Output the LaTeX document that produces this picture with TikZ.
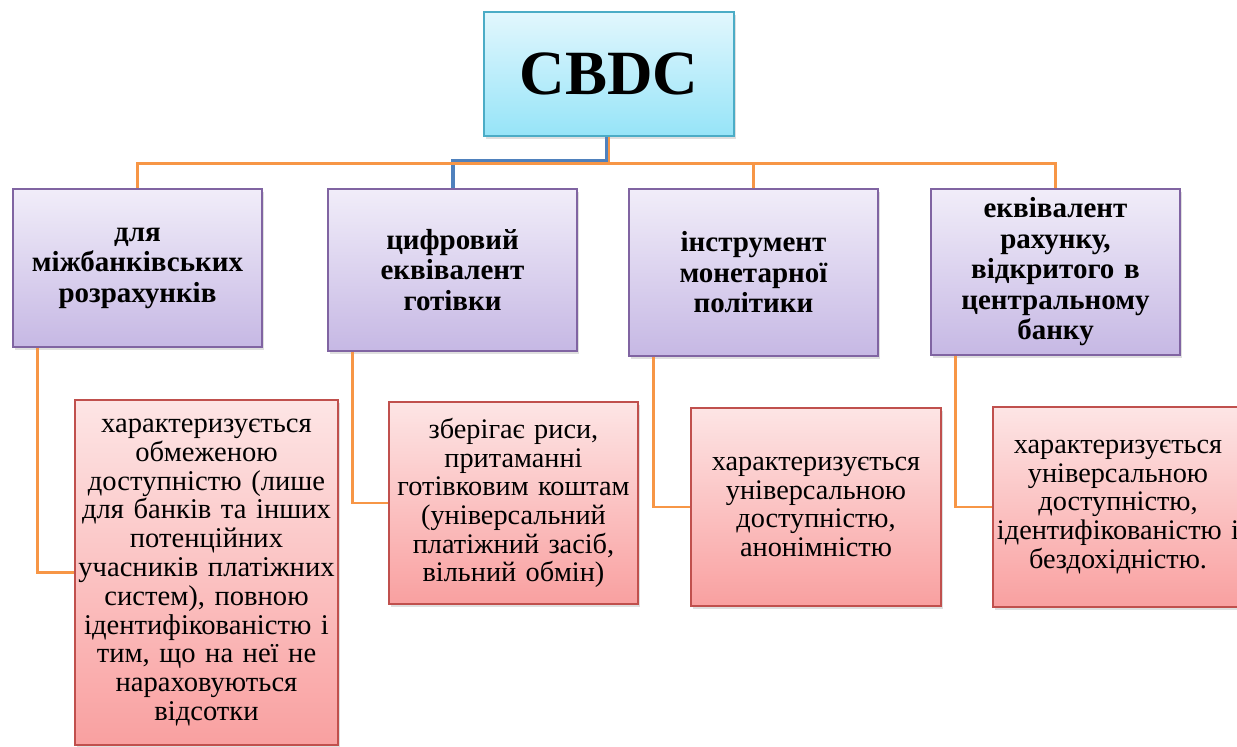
\documentclass[tikz,border=0pt]{standalone}
\usepackage{fontspec}
\setmainfont{Liberation Serif}
\usetikzlibrary{shadows}
\definecolor{cyanT}{RGB}{226,247,253}
\definecolor{cyanB}{RGB}{150,228,248}
\definecolor{cyanD}{RGB}{75,172,198}
\definecolor{purT}{RGB}{241,237,249}
\definecolor{purB}{RGB}{198,184,228}
\definecolor{purD}{RGB}{128,100,162}
\definecolor{redT}{RGB}{253,229,229}
\definecolor{redB}{RGB}{249,160,160}
\definecolor{redD}{RGB}{192,80,77}
\definecolor{orangeL}{RGB}{247,150,70}
\definecolor{blueL}{RGB}{79,129,189}
\tikzset{
  x=1pt, y=-1pt,
  shad/.style={drop shadow={opacity=0.25, shadow xshift=2pt, shadow yshift=-3pt}},
  rootbox/.style={shad, draw=cyanD, line width=1.5pt, top color=cyanT, bottom color=cyanB,
    minimum width=250pt, minimum height=124pt, inner sep=0pt, align=center,
    font=\fontsize{63}{75}\selectfont\bfseries},
  catbox/.style={shad, draw=purD, line width=1.5pt, top color=purT, bottom color=purB,
    minimum width=249pt, inner sep=0pt, align=center, text width=245pt,
    font=\fontsize{29}{30.5}\selectfont\bfseries},
  descbox/.style={shad, draw=redD, line width=1.5pt, top color=redT, bottom color=redB,
    inner sep=0pt, align=center,
    font=\fontsize{28.3}{28.7}\selectfont},
  link/.style={draw=orangeL, line width=2.6pt},
  blink/.style={draw=blueL, line width=4pt}
}
\begin{document}
\begin{tikzpicture}
\useasboundingbox (0,0) rectangle (1237,747);
\fill[white] (0,0) rectangle (1237,747);

\node[rootbox] (cbdc) at (609,74) {CBDC};

\node[catbox, minimum height=158pt] (b1) at (137.5,268) {для\\міжбанківських\\розрахунків};
\node[catbox, minimum height=162pt] (b2) at (452.5,270) {цифровий\\еквівалент\\готівки};
\node[catbox, minimum height=167pt] (b3) at (753.5,272.5) {інструмент\\монетарної\\політики};
\node[catbox, minimum height=166pt] (b4) at (1055.5,272) {еквівалент\\рахунку,\\відкритого в\\центральному\\банку};

\node[descbox, minimum width=263pt, minimum height=345pt, text width=300pt, inner xsep=-20pt,
  font=\fontsize{28.6}{28.8}\selectfont] (c1) at (206.5,572.5)
  {характеризується\\обмеженою\\доступністю (лише\\для банків та інших\\потенційних\\учасників платіжних\\систем), повною\\ідентифікованістю і\\тим, що на неї не\\нараховуються\\відсотки};
\node[descbox, minimum width=249pt, minimum height=202pt, text width=246pt] (c2) at (513.5,503)
  {зберігає риси,\\притаманні\\готівковим коштам\\(універсальний\\платіжний засіб,\\вільний обмін)};
\node[descbox, minimum width=250pt, minimum height=198pt, text width=246pt] (c3) at (816,507)
  {характеризується\\універсальною\\доступністю,\\анонімністю};
\node[descbox, minimum width=250pt, minimum height=200pt, text width=246pt] (c4) at (1118,507)
  {характеризується\\універсальною\\доступністю,\\ідентифікованістю і\\бездохідністю.};

% root connectors
\draw[blink] ([xshift=-2pt]cbdc.south) -- ++(0,24) -| (b2.north);
\draw[link] (cbdc.south) -- ++(0,27) -| (b1.north);
\draw[link] (cbdc.south) -- ++(0,27) -| (b3.north);
\draw[link] (cbdc.south) -- ++(0,27) -| (b4.north);

% child connectors
\draw[link] ([xshift=25pt]b1.south west) |- (c1.west);
\draw[link] ([xshift=25pt]b2.south west) |- (c2.west);
\draw[link] ([xshift=25pt]b3.south west) |- (c3.west);
\draw[link] ([xshift=25pt]b4.south west) |- (c4.west);
\end{tikzpicture}
\end{document}
